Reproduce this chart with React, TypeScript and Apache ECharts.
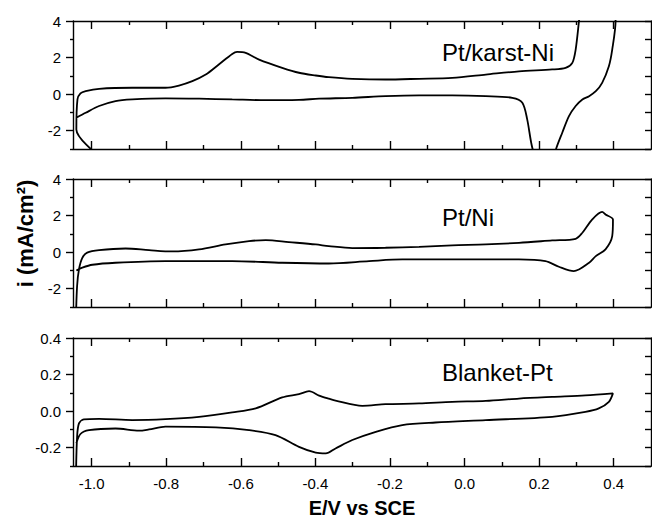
import React, { useEffect, useRef } from "react";
import * as echarts from "echarts";

// ---- tick values ----
const xMajor = [-1.0, -0.8, -0.6, -0.4, -0.2, 0.0, 0.2, 0.4];
const xMinor = [-0.9, -0.7, -0.5, -0.3, -0.1, 0.1, 0.3];
const yMajorA = [-2, 0, 2, 4];
const yMinorA = [-3, -1, 1, 3];
const yAllA = [-3, -2, -1, 0, 1, 2, 3, 4];
const yMajorB = [-0.2, 0.0, 0.2, 0.4];
const yMinorB = [-0.3, -0.1, 0.1, 0.3];
const yAllB = [-0.3, -0.2, -0.1, 0.0, 0.1, 0.2, 0.3, 0.4];

// ---- panel names ----
const panelNames = ["Pt/karst-Ni", "Pt/Ni", "Blanket-Pt"];

// ---- Pt/karst-Ni (E in V, i in mA/cm2) ----
const karstE = [-0.985, -1.041, -1.038, -1.03, -1.016, -0.98, -0.891, -0.802, -0.766, -0.73, -0.694, -0.659, -0.623, -0.61, -0.587, -0.551, -0.489, -0.444, -0.399, -0.364, -0.301, -0.212, -0.122, -0.033, 0.057, 0.146, 0.235, 0.271, 0.289, 0.298, 0.307, 0.315, 0.4, 0.405, 0.396, 0.387, 0.369, 0.352, 0.334, 0.316, 0.298, 0.28, 0.262, 0.246, 0.215, 0.182, 0.168, 0.155, 0.128, 0.057, -0.033, -0.122, -0.212, -0.301, -0.39, -0.444, -0.533, -0.623, -0.712, -0.802, -0.891, -0.936, -0.98, -1.016, -1.041];
const karstI = [-3.3, -1.93, -0.29, 0.04, 0.16, 0.29, 0.35, 0.35, 0.47, 0.71, 1.07, 1.62, 2.2, 2.31, 2.26, 1.89, 1.44, 1.17, 1.02, 0.93, 0.84, 0.8, 0.84, 0.89, 1.07, 1.25, 1.35, 1.44, 1.71, 2.44, 4.02, 5.5, 5.5, 4.0, 2.44, 1.53, 0.62, 0.16, -0.11, -0.29, -0.65, -1.2, -2.11, -2.96, -5.0, -2.96, -1.38, -0.47, -0.2, -0.11, -0.07, -0.07, -0.11, -0.2, -0.25, -0.31, -0.33, -0.29, -0.25, -0.23, -0.29, -0.38, -0.65, -1.02, -1.29];

// ---- Pt/Ni ----
const niE = [-1.042, -1.039, -1.034, -1.025, -1.012, -0.98, -0.909, -0.846, -0.784, -0.712, -0.641, -0.578, -0.533, -0.471, -0.399, -0.364, -0.301, -0.212, -0.122, -0.033, 0.057, 0.146, 0.235, 0.298, 0.316, 0.342, 0.369, 0.378, 0.398, 0.396, 0.378, 0.352, 0.334, 0.293, 0.253, 0.217, 0.146, -0.033, -0.167, -0.256, -0.364, -0.489, -0.623, -0.802, -0.936, -0.998, -1.025, -1.041];
const niI = [-3.5, -1.85, -0.94, -0.31, -0.03, 0.11, 0.2, 0.11, 0.04, 0.15, 0.42, 0.6, 0.66, 0.55, 0.42, 0.33, 0.22, 0.24, 0.29, 0.37, 0.42, 0.51, 0.64, 0.73, 1.06, 1.78, 2.2, 2.06, 1.78, 0.87, 0.15, -0.22, -0.58, -1.04, -0.8, -0.49, -0.4, -0.4, -0.4, -0.49, -0.62, -0.58, -0.49, -0.49, -0.58, -0.69, -0.85, -1.0];

// ---- Blanket-Pt ----
const ptE = [-1.042, -1.039, -1.034, -1.021, -0.98, -0.891, -0.802, -0.712, -0.623, -0.56, -0.489, -0.444, -0.417, -0.39, -0.364, -0.346, -0.274, -0.212, -0.122, -0.033, 0.057, 0.146, 0.235, 0.324, 0.398, 0.387, 0.36, 0.324, 0.235, 0.057, -0.078, -0.167, -0.238, -0.301, -0.346, -0.372, -0.399, -0.444, -0.507, -0.578, -0.667, -0.802, -0.846, -0.873, -0.936, -1.007, -1.03, -1.041];
const ptI = [-0.35, -0.14, -0.067, -0.045, -0.042, -0.049, -0.044, -0.031, -0.007, 0.015, 0.075, 0.093, 0.109, 0.085, 0.068, 0.058, 0.029, 0.038, 0.042, 0.051, 0.056, 0.069, 0.078, 0.086, 0.097, 0.051, 0.015, -0.004, -0.031, -0.049, -0.062, -0.076, -0.113, -0.158, -0.204, -0.231, -0.227, -0.195, -0.131, -0.104, -0.089, -0.085, -0.1, -0.107, -0.095, -0.104, -0.125, -0.176];

const FONT = "'Liberation Sans', Arial, Helvetica, sans-serif";
const BLACK = "#000";

export default function App() {
  const ref = useRef<HTMLDivElement>(null);

  useEffect(() => {
    if (!ref.current) return;
    const chart = echarts.init(ref.current, undefined, { renderer: "svg" });

    const tops = [21, 179, 338];
    const gridH = 128;
    const labelY = [52.5, 217.5, 372];
    const panels = [
      { E: karstE, I: karstI, min: -3, max: 4, major: yMajorA, minor: yMinorA, all: yAllA, fmt: (v: number) => String(Math.round(v)) },
      { E: niE, I: niI, min: -3, max: 4, major: yMajorA, minor: yMinorA, all: yAllA, fmt: (v: number) => String(Math.round(v)) },
      { E: ptE, I: ptI, min: -0.3, max: 0.4, major: yMajorB, minor: yMinorB, all: yAllB, fmt: (v: number) => v.toFixed(1) },
    ];

    const grids: any[] = [];
    const xAxes: any[] = [];
    const yAxes: any[] = [];
    const series: any[] = [];
    const lineStyle = { color: BLACK, width: 1.4 };

    panels.forEach((p, g) => {
      grids.push({ left: 73, width: 578, top: tops[g], height: gridH, containLabel: false });
      const xBase = { type: "value", gridIndex: g, min: -1.05, max: 0.5, splitLine: { show: false }, minorTick: { show: false } };
      const xMainIdx = xAxes.length;
      xAxes.push({
        ...xBase, position: "bottom",
        axisLine: { show: true, onZero: false, lineStyle },
        axisTick: { show: true, inside: true, length: 8, customValues: xMajor, lineStyle },
        axisLabel: { show: g === 2, customValues: xMajor, margin: 10, color: BLACK, fontSize: 15, fontFamily: FONT, formatter: (v: number) => v.toFixed(1) },
      });
      xAxes.push({
        ...xBase, position: "bottom",
        axisLine: { show: false, onZero: false },
        axisTick: { show: true, inside: true, length: 4, customValues: xMinor, lineStyle },
        axisLabel: { show: false },
      });
      xAxes.push({
        ...xBase, position: "top",
        axisLine: { show: true, onZero: false, lineStyle },
        axisTick: { show: true, inside: true, length: 8, customValues: xMajor, lineStyle },
        axisLabel: { show: false },
      });
      xAxes.push({
        ...xBase, position: "top",
        axisLine: { show: false, onZero: false },
        axisTick: { show: true, inside: true, length: 4, customValues: xMinor, lineStyle },
        axisLabel: { show: false },
      });

      const yBase = { type: "value", gridIndex: g, min: p.min, max: p.max, splitLine: { show: false }, minorTick: { show: false } };
      const yMainIdx = yAxes.length;
      yAxes.push({
        ...yBase, position: "left",
        axisLine: { show: true, onZero: false, lineStyle },
        axisTick: { show: true, inside: false, length: 7, customValues: p.major, lineStyle },
        axisLabel: { show: true, customValues: p.major, margin: 12, color: BLACK, fontSize: 15, fontFamily: FONT, formatter: p.fmt },
      });
      yAxes.push({
        ...yBase, position: "left",
        axisLine: { show: false, onZero: false },
        axisTick: { show: true, inside: false, length: 3, customValues: p.minor, lineStyle },
        axisLabel: { show: false },
      });
      yAxes.push({
        ...yBase, position: "right",
        axisLine: { show: true, onZero: false, lineStyle },
        axisTick: { show: true, inside: true, length: 6, customValues: p.all, lineStyle },
        axisLabel: { show: false },
      });

      series.push({
        type: "line",
        name: panelNames[g],
        xAxisIndex: xMainIdx,
        yAxisIndex: yMainIdx,
        data: p.E.map((e, i) => [e, p.I[i]]),
        showSymbol: false,
        symbol: "none",
        smooth: 0.3,
        clip: true,
        lineStyle: { color: BLACK, width: 1.8 },
      });
    });

    const graphic: any[] = panelNames.map((t, i) => ({
      type: "text",
      x: 442,
      y: labelY[i],
      style: { text: t, fill: BLACK, fontSize: 24, fontFamily: FONT, align: "left", verticalAlign: "middle" },
    }));
    graphic.push({
      type: "text",
      x: 362,
      y: 507.5,
      style: { text: "E/V vs SCE", fill: BLACK, fontSize: 20, fontWeight: "bold", fontFamily: FONT, align: "center", verticalAlign: "middle" },
    });
    graphic.push({
      type: "text",
      x: 25,
      y: 233.5,
      rotation: Math.PI / 2,
      style: { text: "i (mA/cm²)", fill: BLACK, fontSize: 22, fontWeight: "bold", fontFamily: FONT, align: "center", verticalAlign: "middle" },
    });

    chart.setOption({
      animation: false,
      backgroundColor: "#fff",
      grid: grids,
      xAxis: xAxes,
      yAxis: yAxes,
      series,
      graphic,
    });

    return () => chart.dispose();
  }, []);

  return <div ref={ref} style={{ position: "absolute", left: 0, top: 0, width: 652, height: 517 }} />;
}
